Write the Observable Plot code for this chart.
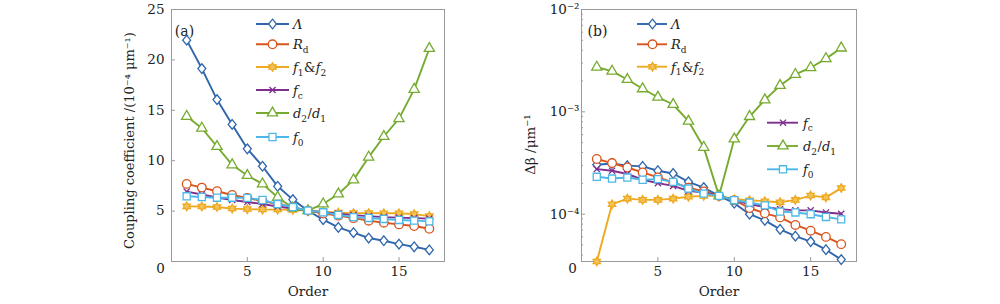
<!DOCTYPE html>
<html><head><meta charset="utf-8">
<script src="https://cdn.jsdelivr.net/npm/d3@7"></script>
<script src="https://cdn.jsdelivr.net/npm/@observablehq/plot@0.6"></script>
<style>
body{margin:0;background:#fff;}
#wrap{position:relative;width:1000px;height:304px;overflow:hidden;}
#wrap svg{position:absolute;top:0;}
</style></head><body><div id="wrap"></div>
<script>
// ---------- data ----------
const order = [1, 2, 3, 4, 5, 6, 7, 8, 9, 10, 11, 12, 13, 14, 15, 16, 17];
const seriesNames = ["Λ", "Rd", "f1&f2", "fc", "d2/d1", "f0"];

// panel (a): coupling coefficient, 10^-4 μm^-1
const aLambda = [21.96, 19.14, 16.06, 13.6, 11.18, 9.45, 7.46, 6.14, 5.04, 4.15, 3.38, 2.86, 2.33, 2.06, 1.72, 1.46, 1.15];
const aRd     = [7.7, 7.33, 6.97, 6.6, 6.3, 6.0, 5.7, 5.4, 5.05, 4.75, 4.55, 4.3, 4.05, 3.85, 3.68, 3.52, 3.25];
const aF1F2   = [5.47, 5.45, 5.4, 5.25, 5.2, 5.15, 5.15, 5.12, 5.05, 4.95, 4.85, 4.8, 4.8, 4.78, 4.78, 4.7, 4.5];
const aFc     = [6.93, 6.65, 6.35, 6.1, 5.9, 5.7, 5.45, 5.25, 5.05, 4.9, 4.75, 4.6, 4.5, 4.4, 4.35, 4.3, 4.25];
const aD2D1   = [14.4, 13.23, 11.41, 9.59, 8.53, 7.7, 6.37, 5.31, 5.04, 5.71, 6.7, 8.1, 10.35, 12.4, 14.17, 17.08, 21.13];
const aF0     = [6.47, 6.4, 6.33, 6.33, 6.31, 6.1, 5.7, 5.4, 5.05, 4.88, 4.62, 4.4, 4.32, 4.22, 4.12, 4.05, 3.98];

// panel (b): Δβ, μm^-1
const bLambda = [3.04e-4, 3.13e-4, 2.98e-4, 2.93e-4, 2.66e-4, 2.5e-4, 2.07e-4, 1.82e-4, 1.51e-4, 1.28e-4, 1.0e-4, 8.7e-5, 7.1e-5, 6.1e-5, 5.4e-5, 4.5e-5, 3.6e-5];
const bRd     = [3.46e-4, 3.16e-4, 2.86e-4, 2.56e-4, 2.29e-4, 2.04e-4, 1.82e-4, 1.67e-4, 1.51e-4, 1.37e-4, 1.15e-4, 1.02e-4, 9.3e-5, 7.85e-5, 6.9e-5, 6.0e-5, 5.1e-5];
const bF1F2   = [3.45e-5, 1.25e-4, 1.42e-4, 1.38e-4, 1.38e-4, 1.42e-4, 1.48e-4, 1.51e-4, 1.51e-4, 1.4e-4, 1.37e-4, 1.34e-4, 1.31e-4, 1.38e-4, 1.52e-4, 1.46e-4, 1.8e-4];
const bFc     = [2.76e-4, 2.66e-4, 2.47e-4, 2.17e-4, 2.01e-4, 1.89e-4, 1.69e-4, 1.63e-4, 1.51e-4, 1.38e-4, 1.25e-4, 1.18e-4, 1.12e-4, 1.09e-4, 1.09e-4, 1.04e-4, 1.01e-4];
const bD2D1   = [2.73e-3, 2.5e-3, 2.07e-3, 1.68e-3, 1.39e-3, 1.18e-3, 8.1e-4, 4.5e-4, 1.51e-4, 5.43e-4, 9.0e-4, 1.31e-3, 1.81e-3, 2.32e-3, 2.7e-3, 3.31e-3, 4.2e-3];
const bF0     = [2.32e-4, 2.23e-4, 2.28e-4, 2.17e-4, 2.2e-4, 2.07e-4, 1.78e-4, 1.59e-4, 1.51e-4, 1.37e-4, 1.3e-4, 1.22e-4, 1.06e-4, 1.04e-4, 1.0e-4, 9.4e-5, 8.9e-5];

// tick labels
const xTicks = [5, 10, 15];
const yTicksA = [5, 10, 15, 20, 25];
const yTicksB = [1e-4, 1e-3, 1e-2];
const yTickLabelsB = ["10⁻⁴", "10⁻³", "10⁻²"];
const yMinorB = [4e-5, 5e-5, 6e-5, 7e-5, 8e-5, 9e-5, 2e-4, 3e-4, 4e-4, 5e-4, 6e-4, 7e-4, 8e-4, 9e-4, 2e-3, 3e-3, 4e-3, 5e-3, 6e-3, 7e-3, 8e-3, 9e-3];
const xLabel = "Order";
const yLabelA = "Coupling coefficient /(10⁻⁴ μm⁻¹)";
const yLabelB = "Δβ /μm⁻¹";

// ---------- styles ----------
const colors = ["#2f66ad", "#d9541c", "#eda91f", "#7e2f8e", "#76ab2f", "#4db8e8"];
const FONT = "'DejaVu Serif', serif";

const diamondSym = {draw(c, s) { const r = Math.sqrt(s / Math.PI); c.moveTo(0, -r * 1.1); c.lineTo(r * 0.9, 0); c.lineTo(0, r * 1.1); c.lineTo(-r * 0.9, 0); c.closePath(); }};
const hexagramSym = {draw(c, s) {
  const R = Math.sqrt(s / Math.PI) * 1.15, ri = R / Math.sqrt(3);
  for (let i = 0; i < 12; i++) {
    const a = -Math.PI / 2 + i * Math.PI / 6, rr = i % 2 ? ri : R;
    const x = rr * Math.cos(a), y = rr * Math.sin(a);
    i ? c.lineTo(x, y) : c.moveTo(x, y);
  }
  c.closePath();
}};
const symbols = [diamondSym, d3.symbolCircle, hexagramSym, d3.symbolTimes, d3.symbolTriangle, d3.symbolSquare];
const radii = [4.4, 4.3, 3.7, 2.9, 3.8, 4.0];
const fills = ["white", "white", "#f3c35a", "none", "white", "white"];

function rows(vals) { return order.map((o, i) => ({order: o, value: vals[i]})); }

function seriesMarks(all) {
  const marks = [];
  all.forEach((vals, k) => {
    const d = rows(vals);
    marks.push(Plot.line(d, {x: "order", y: "value", stroke: colors[k], strokeWidth: 1.9}));
    marks.push(Plot.dot(d, {x: "order", y: "value", symbol: symbols[k], r: radii[k], stroke: colors[k], fill: fills[k], strokeWidth: 1.3}));
  });
  return marks;
}

// legend label parts: [text, kind] kind: i italic, n normal, s subscript
const legendParts = [
  [["Λ", "i"]],
  [["R", "i"], ["d", "s"]],
  [["f", "i"], ["1", "s"], ["&", "n"], ["f", "i"], ["2", "s"]],
  [["f", "i"], ["c", "s"]],
  [["d", "i"], ["2", "s"], ["/", "n"], ["d", "i"], ["1", "s"]],
  [["f", "i"], ["0", "s"]]
];

function addLegend(svg, items) {
  const g = d3.select(svg).append("g").attr("font-family", FONT).attr("font-size", 13).attr("text-anchor", "start");
  items.forEach(({k, x1, x2, xm, xt, y}) => {
    g.append("line").attr("x1", x1).attr("x2", x2).attr("y1", y).attr("y2", y)
      .attr("stroke", colors[k]).attr("stroke-width", 1.9);
    const area = Math.PI * radii[k] * radii[k];
    g.append("path").attr("transform", `translate(${xm},${y})`)
      .attr("d", d3.symbol(symbols[k], area)())
      .attr("stroke", colors[k]).attr("fill", fills[k]).attr("stroke-width", 1.3);
    const t = g.append("text").attr("x", xt).attr("y", y + 5).attr("fill", "#222");
    let shifted = false;
    legendParts[k].forEach(([s, kind]) => {
      const ts = t.append("tspan").text(s);
      if (kind === "s") {
        ts.attr("font-size", 9).attr("dy", shifted ? 0 : 3.5); shifted = true;
      } else {
        if (shifted) { ts.attr("dy", -3.5); shifted = false; }
        if (kind === "i") ts.attr("font-style", "italic");
        if (kind === "n") ts.attr("dx", 0.5);
      }
    });
  });
}

const wrap = document.getElementById("wrap");
const frameColor = "#9a9a9a";

// ---------- panel (a) ----------
const plotA = Plot.plot({
  width: 500, height: 304,
  marginLeft: 171, marginRight: 56, marginTop: 9, marginBottom: 43,
  style: {fontFamily: FONT, fontSize: "13.5px", background: "transparent", color: "#222", overflow: "visible"},
  x: {domain: [0, 18]},
  y: {domain: [0, 25]},
  marks: [
    Plot.frame({stroke: frameColor}),
    Plot.axisX({ticks: xTicks, tickSize: -4, tickPadding: 9, label: null, stroke: frameColor}),
    Plot.axisY({ticks: yTicksA, tickSize: -4, tickPadding: 11, label: null, stroke: frameColor}),
    Plot.text([xLabel], {frameAnchor: "bottom", textAnchor: "middle", dy: 34, text: d => d}),
    Plot.text([yLabelA], {frameAnchor: "left", textAnchor: "middle", rotate: -90, dx: -42, dy: 5, text: d => d, fontSize: 13}),
    Plot.text(["0"], {frameAnchor: "bottom-left", textAnchor: "middle", dx: -11, dy: 11, text: d => d}),
    Plot.text(["(a)"], {frameAnchor: "top-left", textAnchor: "middle", dx: 13, dy: 17, text: d => d, fontSize: 14}),
    ...seriesMarks([aLambda, aRd, aF1F2, aFc, aD2D1, aF0])
  ]
});
plotA.style.left = "0px";
wrap.appendChild(plotA);
addLegend(plotA, [0, 1, 2, 3, 4, 5].map((k, i) => ({k, x1: 256, x2: 289, xm: 272.5, xt: 293, y: [24, 44.3, 67, 90, 113, 137][i]})));

// ---------- panel (b) ----------
const plotB = Plot.plot({
  width: 500, height: 304,
  marginLeft: 81, marginRight: 144, marginTop: 9, marginBottom: 43,
  style: {fontFamily: FONT, fontSize: "13.5px", background: "transparent", color: "#222", overflow: "visible"},
  x: {domain: [0, 18]},
  y: {type: "log", domain: [3.45e-5, 1e-2]},
  marks: [
    Plot.frame({stroke: frameColor}),
    Plot.axisX({ticks: xTicks, tickSize: -4, tickPadding: 9, label: null, stroke: frameColor}),
    Plot.axisY({ticks: yTicksB, tickSize: -4, tickPadding: 6, tickFormat: d => yTickLabelsB[yTicksB.indexOf(d)], label: null, stroke: frameColor}),
    Plot.axisY({ticks: yMinorB, tickSize: -2, tickFormat: () => "", label: null, stroke: frameColor}),
    Plot.text([xLabel], {frameAnchor: "bottom", textAnchor: "middle", dy: 34, text: d => d}),
    Plot.text([yLabelB], {frameAnchor: "left", textAnchor: "middle", rotate: -90, dx: -51, dy: 9, text: d => d}),
    Plot.text(["0"], {frameAnchor: "bottom-left", textAnchor: "middle", dx: -9, dy: 11, text: d => d}),
    Plot.text(["(b)"], {frameAnchor: "top-left", textAnchor: "middle", dx: 16, dy: 17, text: d => d, fontSize: 14}),
    ...seriesMarks([bLambda, bRd, bF1F2, bFc, bD2D1, bF0])
  ]
});
plotB.style.left = "500px";
wrap.appendChild(plotB);
addLegend(plotB, [
  {k: 0, y: 24}, {k: 1, y: 44.3}, {k: 2, y: 66.7}
].map(e => ({...e, x1: 137, x2: 167, xm: 152.5, xt: 171})).concat([
  {k: 3, y: 122.7}, {k: 4, y: 146}, {k: 5, y: 169.3}
].map(e => ({...e, x1: 267, x2: 298, xm: 283, xt: 303}))));
</script>
</body></html>
